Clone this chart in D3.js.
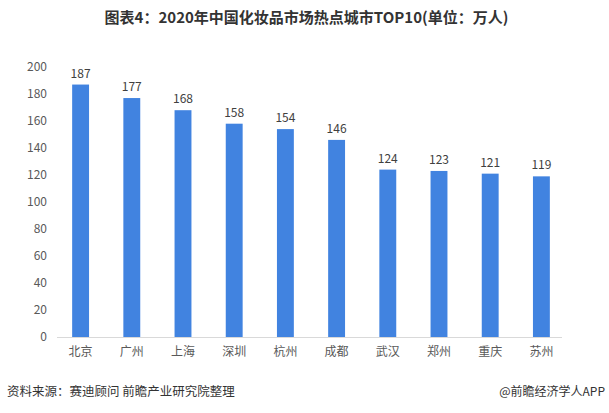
<!DOCTYPE html>
<html><head><meta charset="utf-8">
<script src="https://cdn.jsdelivr.net/npm/d3@7"></script>
<style>body{margin:0;background:#fff}svg{display:block}</style>
</head><body>
<script>
const categories = ["北京","广州","上海","深圳","杭州","成都","武汉","郑州","重庆","苏州"];
const values = [187,177,168,158,154,146,124,123,121,119];
const yTicks = [0,20,40,60,80,100,120,140,160,180,200];
const title = "图表4：2020年中国化妆品市场热点城市TOP10(单位：万人)";
const source = "资料来源：赛迪顾问 前瞻产业研究院整理";
const credit = "@前瞻经济学人APP";

const W=609,H=413;
const svg=d3.select("body").append("svg").attr("width",W).attr("height",H);
const font="'Noto Sans CJK SC','Microsoft YaHei',sans-serif";
const x=d3.scaleBand().domain(categories).range([55,567]).paddingInner(0.67).paddingOuter(0.335);
const y=d3.scaleLinear().domain([0,200]).range([337,67]);

svg.append("text").attr("x",W/2+2).attr("y",23).attr("text-anchor","middle")
 .attr("font-family",font).attr("font-weight","bold").attr("font-size",15).attr("fill","#333").text(title);

const ya=svg.append("g").attr("transform","translate(47,0)")
 .call(d3.axisLeft(y).tickValues(yTicks).tickSize(0).tickPadding(0));
ya.select(".domain").remove();
ya.selectAll("text").attr("font-family",font).attr("font-size",12).attr("fill","#595959");

svg.append("line").attr("x1",57).attr("x2",562).attr("y1",337.5).attr("y2",337.5).attr("stroke","#d9d9d9");

svg.selectAll("rect.bar").data(values).join("rect").attr("class","bar")
 .attr("x",(d,i)=>x(categories[i])).attr("width",x.bandwidth())
 .attr("y",d=>y(d)).attr("height",d=>y(0)-y(d)).attr("fill","#4183e0");

svg.selectAll("text.val").data(values).join("text").attr("class","val")
 .attr("x",(d,i)=>x(categories[i])+x.bandwidth()/2).attr("y",d=>y(d)-7)
 .attr("text-anchor","middle").attr("font-family",font).attr("font-size",12).attr("fill","#404040").text(d=>d);

const xa=svg.append("g").attr("transform","translate(0,337)")
 .call(d3.axisBottom(x).tickSize(0).tickPadding(10));
xa.select(".domain").remove();
xa.selectAll("text").attr("font-family",font).attr("font-size",12).attr("fill","#595959");

svg.append("text").attr("x",7).attr("y",396).attr("font-family",font).attr("font-size",12.5).attr("fill","#333").text(source);
svg.append("text").attr("x",605).attr("y",396).attr("text-anchor","end").attr("font-family",font).attr("font-size",12).attr("fill","#333").text(credit);
</script>
</body></html>
